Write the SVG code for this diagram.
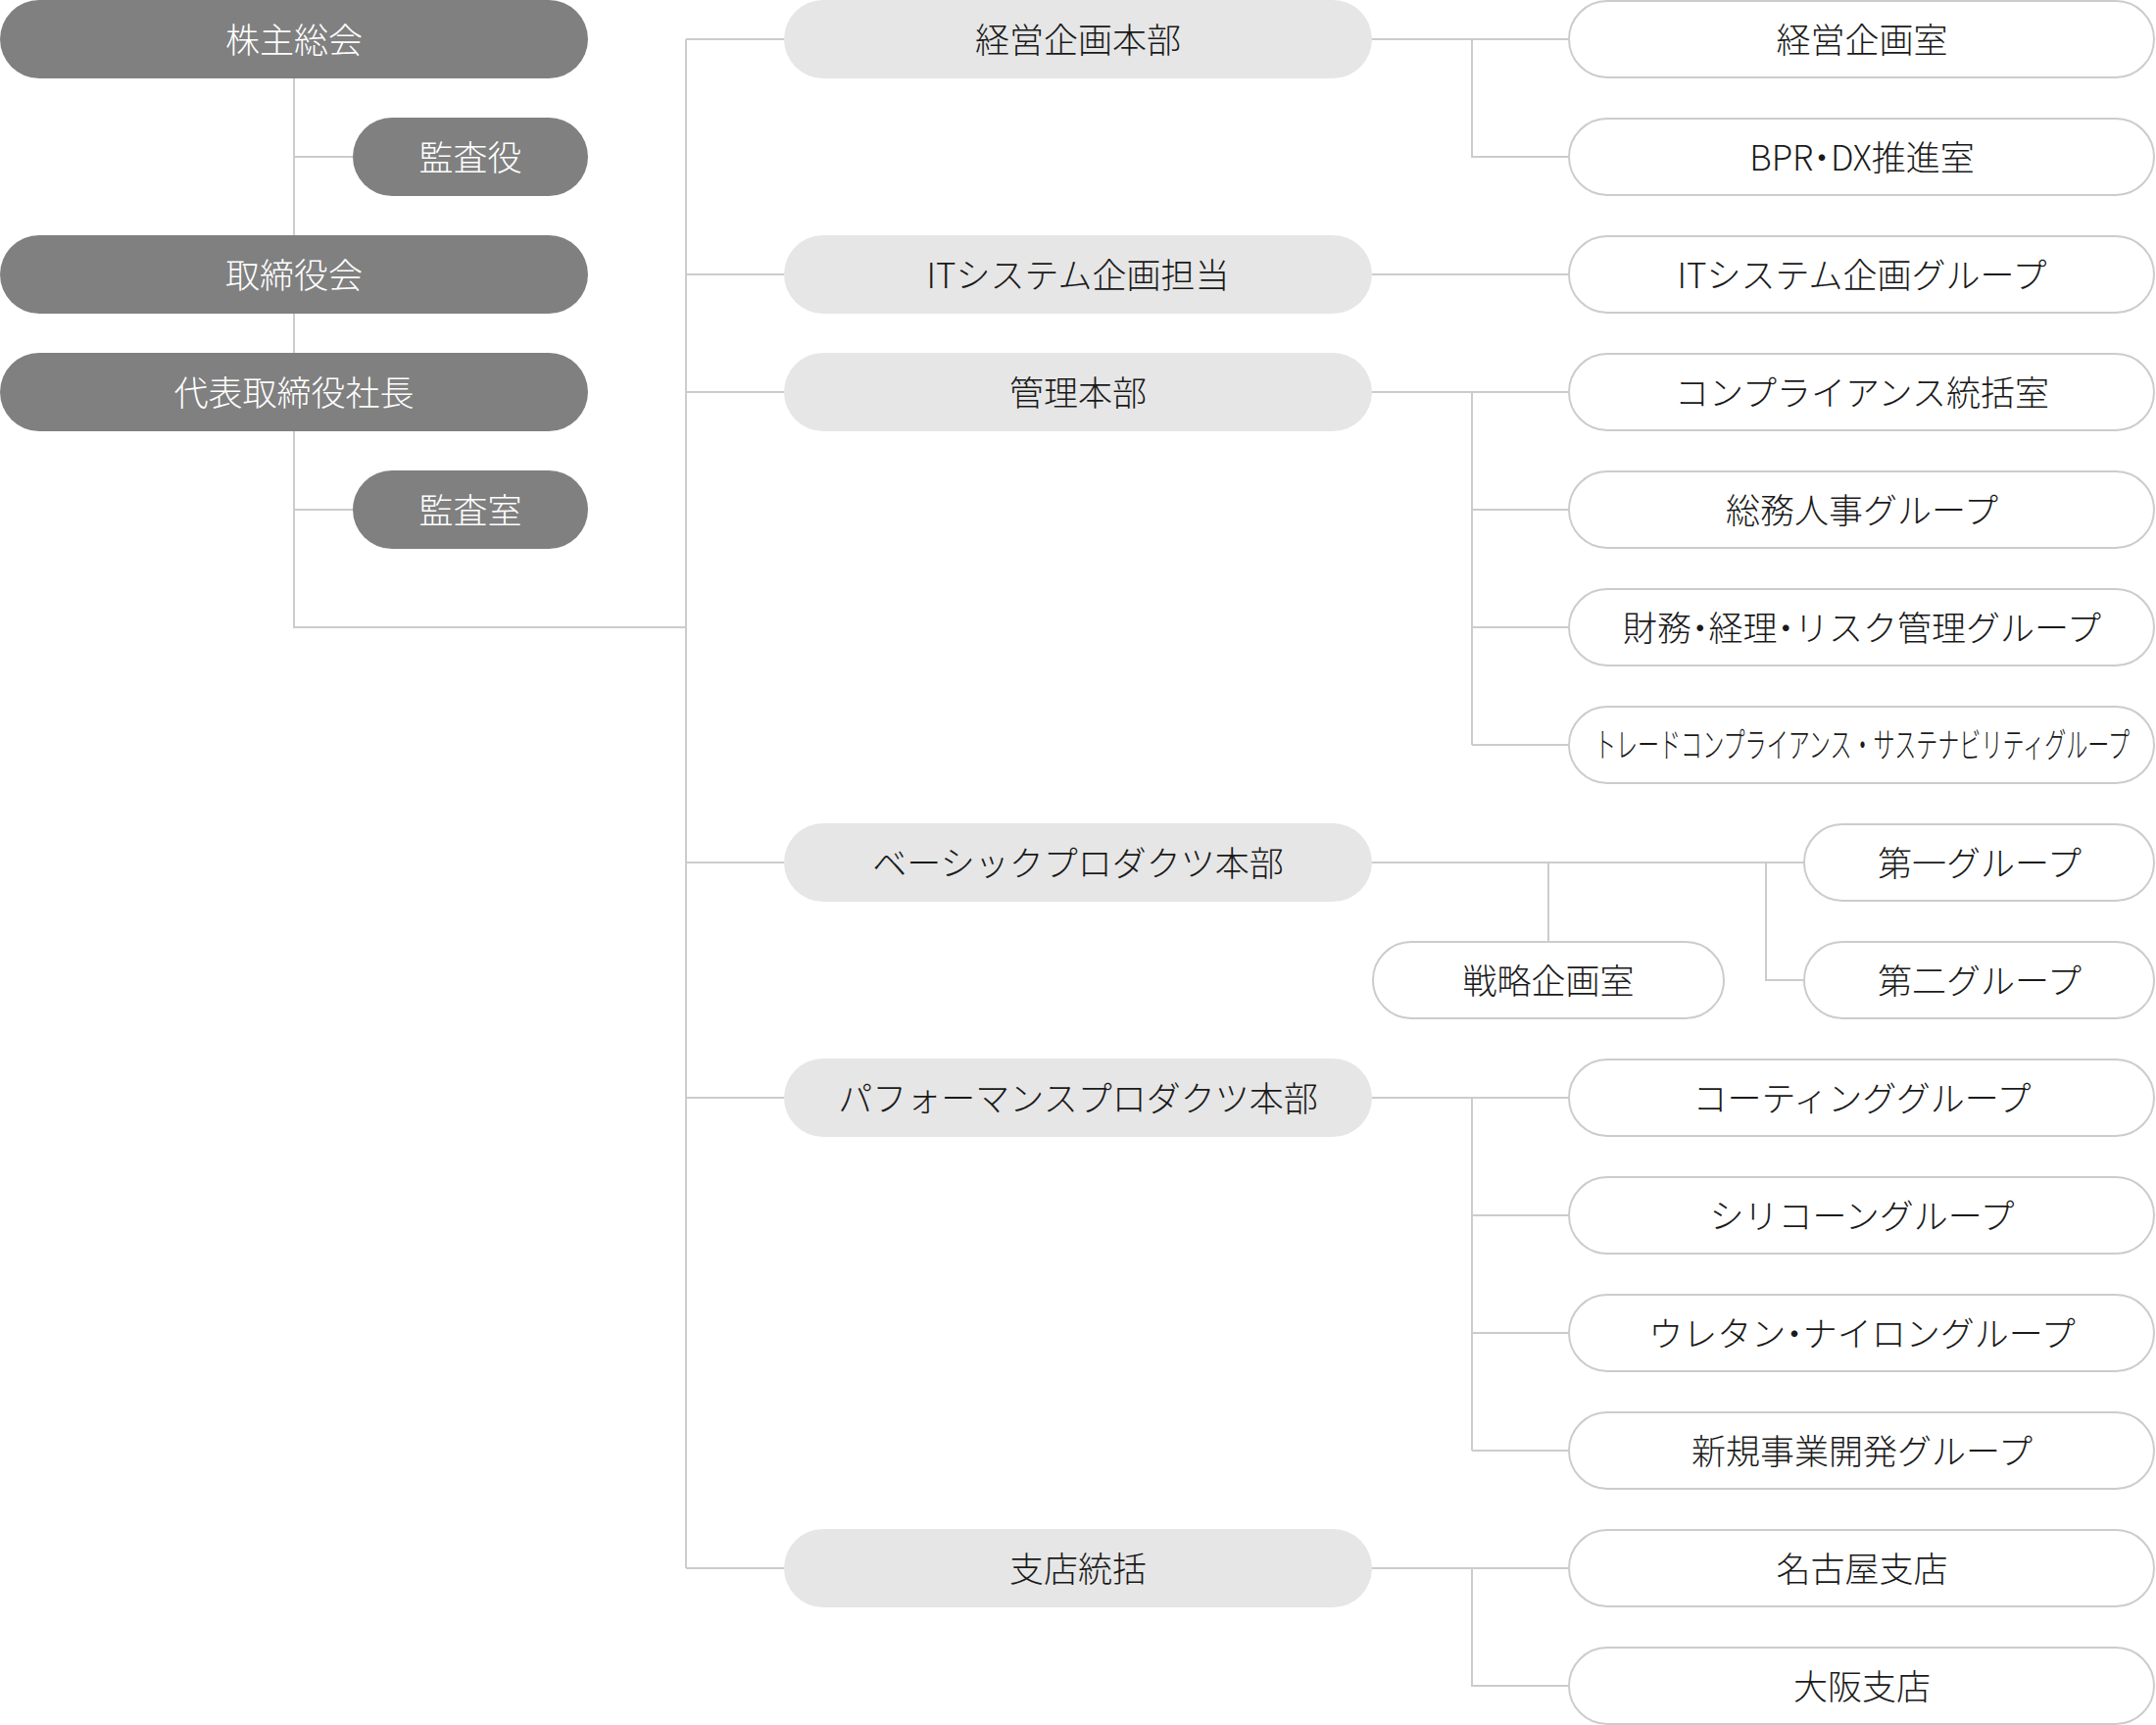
<svg xmlns="http://www.w3.org/2000/svg" width="2200" height="1760" viewBox="0 0 2200 1760">
<style>
text{font-family:"Noto Sans CJK JP","Noto Sans",sans-serif;font-size:35px;font-weight:300;text-anchor:middle}
.dot{font-feature-settings:"halt"}
.dark rect{fill:#808080}
.dark text{fill:#ffffff}
.mid rect{fill:#e6e6e6}
.mid text{fill:#1a1a1a}
.unit rect{fill:#ffffff;stroke:#cccccc;stroke-width:2}
.unit text{fill:#1a1a1a}
#connectors path{fill:none;stroke:#cccccc;stroke-width:2}
</style>
<rect width="2200" height="1760" fill="#ffffff"/>
<g id="connectors">
<path d="M300 80V640H700"/>
<path d="M300 160H360M300 520H360"/>
<path d="M700 40V1600"/>
<path d="M700 40H800M700 280H800M700 400H800M700 880H800M700 1120H800M700 1600H800"/>
<path d="M1400 40H1600M1502 40V160H1600"/>
<path d="M1400 280H1600"/>
<path d="M1400 400H1600M1502 400V760M1502 520H1600M1502 640H1600M1502 760H1600"/>
<path d="M1400 880H1841M1580 880V960M1802 880V1000H1841"/>
<path d="M1400 1120H1600M1502 1120V1480M1502 1240H1600M1502 1360H1600M1502 1480H1600"/>
<path d="M1400 1600H1600M1502 1600V1720H1600"/>
</g>
<g id="n-kabunushi" class="dark"><rect x="0" y="0" width="600" height="80" rx="40"/><text x="300" y="54">株主総会</text></g>
<g id="n-kansayaku" class="dark"><rect x="360" y="120" width="240" height="80" rx="40"/><text x="480" y="174">監査役</text></g>
<g id="n-torishimariyakukai" class="dark"><rect x="0" y="240" width="600" height="80" rx="40"/><text x="300" y="294">取締役会</text></g>
<g id="n-shacho" class="dark"><rect x="0" y="360" width="600" height="80" rx="40"/><text x="300" y="414">代表取締役社長</text></g>
<g id="n-kansashitsu" class="dark"><rect x="360" y="480" width="240" height="80" rx="40"/><text x="480" y="534">監査室</text></g>

<g id="n-keiei-honbu" class="mid"><rect x="800" y="0" width="600" height="80" rx="40"/><text x="1100" y="54">経営企画本部</text></g>
<g id="n-it-tanto" class="mid"><rect x="800" y="240" width="600" height="80" rx="40"/><text x="1100" y="294">ITシステム企画担当</text></g>
<g id="n-kanri-honbu" class="mid"><rect x="800" y="360" width="600" height="80" rx="40"/><text x="1100" y="414">管理本部</text></g>
<g id="n-basic-honbu" class="mid"><rect x="800" y="840" width="600" height="80" rx="40"/><text x="1100" y="894">ベーシックプロダクツ本部</text></g>
<g id="n-perf-honbu" class="mid"><rect x="800" y="1080" width="600" height="80" rx="40"/><text x="1100" y="1134">パフォーマンスプロダクツ本部</text></g>
<g id="n-shiten-tokatsu" class="mid"><rect x="800" y="1560" width="600" height="80" rx="40"/><text x="1100" y="1614">支店統括</text></g>

<g id="n-keiei-shitsu" class="unit"><rect x="1601" y="1" width="597" height="78" rx="39"/><text x="1900" y="54">経営企画室</text></g>
<g id="n-bpr" class="unit"><rect x="1601" y="121" width="597" height="78" rx="39"/><text x="1900" y="174">BPR<tspan class="dot">・</tspan>DX推進室</text></g>
<g id="n-it-group" class="unit"><rect x="1601" y="241" width="597" height="78" rx="39"/><text x="1900" y="294">ITシステム企画グループ</text></g>
<g id="n-compliance" class="unit"><rect x="1601" y="361" width="597" height="78" rx="39"/><text x="1900" y="414">コンプライアンス統括室</text></g>
<g id="n-somu" class="unit"><rect x="1601" y="481" width="597" height="78" rx="39"/><text x="1900" y="534">総務人事グループ</text></g>
<g id="n-zaimu" class="unit"><rect x="1601" y="601" width="597" height="78" rx="39"/><text x="1900" y="654">財務<tspan class="dot">・</tspan>経理<tspan class="dot">・</tspan>リスク管理グループ</text></g>
<g id="n-trade" class="unit"><rect x="1601" y="721" width="597" height="78" rx="39"/><text transform="translate(1900 773) scale(0.63 1)" x="0" y="0" font-size="33">トレードコンプライアンス・サステナビリティグループ</text></g>
<g id="n-senryaku" class="unit"><rect x="1401" y="961" width="358" height="78" rx="39"/><text x="1580" y="1014">戦略企画室</text></g>
<g id="n-daiichi" class="unit"><rect x="1841" y="841" width="357" height="78" rx="39"/><text x="2020" y="894">第一グループ</text></g>
<g id="n-daini" class="unit"><rect x="1841" y="961" width="357" height="78" rx="39"/><text x="2020" y="1014">第二グループ</text></g>
<g id="n-coating" class="unit"><rect x="1601" y="1081" width="597" height="78" rx="39"/><text x="1900" y="1134">コーティンググループ</text></g>
<g id="n-silicone" class="unit"><rect x="1601" y="1201" width="597" height="78" rx="39"/><text x="1900" y="1254">シリコーングループ</text></g>
<g id="n-urethane" class="unit"><rect x="1601" y="1321" width="597" height="78" rx="39"/><text x="1900" y="1374">ウレタン<tspan class="dot">・</tspan>ナイロングループ</text></g>
<g id="n-shinki" class="unit"><rect x="1601" y="1441" width="597" height="78" rx="39"/><text x="1900" y="1494">新規事業開発グループ</text></g>
<g id="n-nagoya" class="unit"><rect x="1601" y="1561" width="597" height="78" rx="39"/><text x="1900" y="1614">名古屋支店</text></g>
<g id="n-osaka" class="unit"><rect x="1601" y="1681" width="597" height="78" rx="39"/><text x="1900" y="1734">大阪支店</text></g>
</svg>
